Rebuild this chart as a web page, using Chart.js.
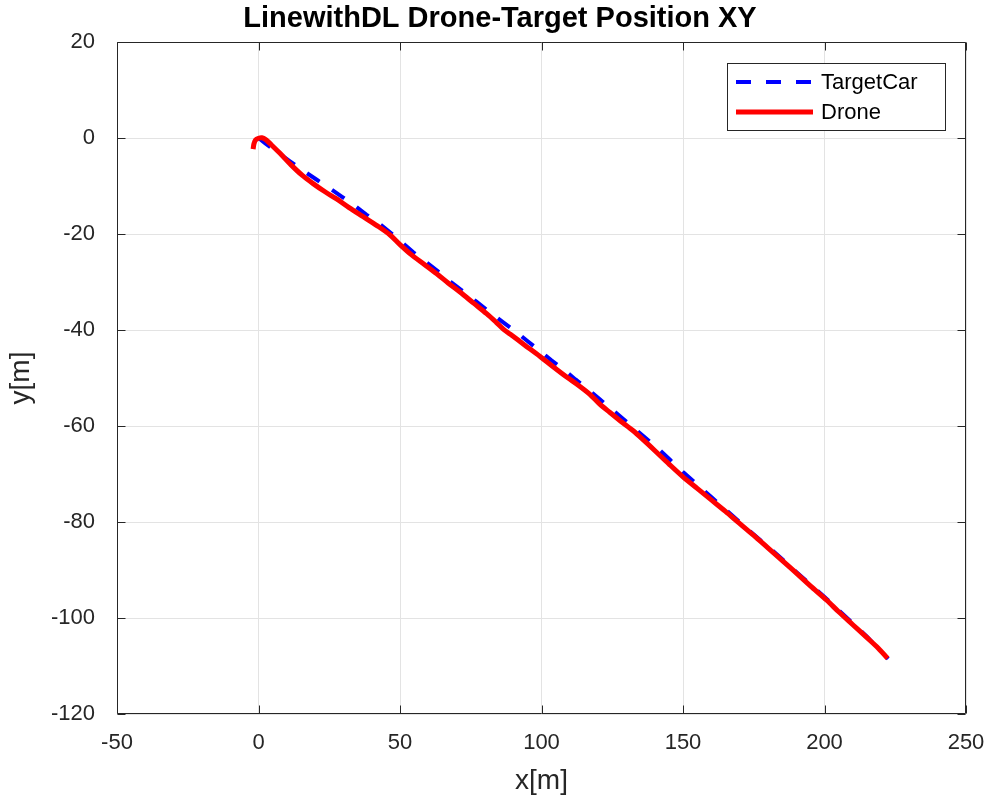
<!DOCTYPE html>
<html>
<head>
<meta charset="utf-8">
<script src="https://cdn.jsdelivr.net/npm/chart.js@4"></script>
<style>
html,body{margin:0;padding:0;background:#fff;}
#wrap{width:992px;height:802px;}
</style>
</head>
<body>
<div id="wrap"><canvas id="c" width="992" height="802"></canvas></div>
<script>
const chartTitle = 'LinewithDL Drone-Target Position XY';
const xLabel = 'x[m]';
const yLabel = 'y[m]';
const seriesNames = ['TargetCar', 'Drone'];
const xTicks = [-50, 0, 50, 100, 150, 200, 250];
const yTicks = [-120, -100, -80, -60, -40, -20, 0, 20];

const targetX = [0, 2.3, 6.5, 11, 15.5, 20.6, 25, 29.4, 34, 38.2, 43, 47, 51, 54.7, 59.5, 64.1, 68, 72.4, 77, 81.3, 86, 90.6, 95, 99.5, 103.5, 107.7, 112, 116.5, 120.5, 124.8, 129, 133, 137, 141, 145.5, 150, 155, 160, 165, 170, 175, 180, 185, 190, 195, 200, 205, 210, 215, 222.5];
const targetY = [0, -1.1, -2.9, -4.8, -6.7, -8.7, -10.4, -12.2, -14.1, -16, -18, -19.9, -21.9, -23.8, -26, -28.1, -30, -32, -34.1, -36.1, -38.2, -40.2, -42.3, -44.4, -46.3, -48.2, -50.3, -52.4, -54.4, -56.5, -58.6, -60.6, -62.6, -64.6, -67.1, -69.6, -72.2, -74.8, -77.4, -80.0, -82.6, -85.1, -87.7, -90.4, -93, -95.6, -98.4, -101.1, -103.9, -108.5];

const droneX = [-1.9, -1.6, -1.0, 0, 1.2, 2.5, 4.5, 7.6, 11.5, 15.5, 19.3, 23.5, 27.6, 32, 37, 42, 46.5, 50, 54, 58.5, 63, 67, 71.2, 76, 80.6, 84, 86.5, 89, 94, 99.5, 104, 108.9, 113, 117.1, 120.5, 124.2, 128, 132.4, 136, 140, 145, 150, 155, 160, 165, 169, 175, 180, 185, 189, 195, 200.8, 205, 210, 215, 219, 222.3];
const droneY = [-2.3, -1.2, -0.4, -0.05, 0.05, -0.3, -1.4, -3.2, -5.6, -7.8, -9.5, -11.2, -12.7, -14.5, -16.4, -18.3, -20.2, -22.2, -24.3, -26.3, -28.3, -30.2, -32.1, -34.4, -36.6, -38.4, -39.8, -40.9, -43.1, -45.5, -47.6, -49.8, -51.5, -53.4, -55.4, -57.2, -59, -61, -62.9, -65.1, -67.9, -70.6, -73, -75.4, -77.8, -79.8, -82.8, -85.4, -88, -90.1, -93.3, -96.3, -98.7, -101.4, -104.1, -106.3, -108.4];

const FONT = "'Liberation Sans', Arial, Helvetica, sans-serif";
const toPts = (xs, ys) => xs.map((x, i) => ({x: x, y: ys[i]}));

const boxPlugin = {
  id: 'boxPlugin',
  afterDraw(chart) {
    const ctx = chart.ctx;
    const a = chart.chartArea;
    const xs = chart.scales.x, ys = chart.scales.y;
    ctx.save();
    ctx.strokeStyle = '#262626';
    ctx.lineWidth = 1;
    const L = Math.round(a.left) + 0.5, R = Math.round(a.right) - 0.5;
    const T = Math.round(a.top) + 0.5, B = Math.round(a.bottom) - 0.5;
    ctx.beginPath();
    ctx.rect(L, T, R - L, B - T);
    const tl = 8;
    xTicks.forEach(v => {
      const px = Math.round(xs.getPixelForValue(v)) + 0.5;
      ctx.moveTo(px, B); ctx.lineTo(px, B - tl);
      ctx.moveTo(px, T); ctx.lineTo(px, T + tl);
    });
    yTicks.forEach(v => {
      const py = Math.round(ys.getPixelForValue(v)) + 0.5;
      ctx.moveTo(L, py); ctx.lineTo(L + tl, py);
      ctx.moveTo(R, py); ctx.lineTo(R - tl, py);
    });
    ctx.stroke();

    // title
    ctx.fillStyle = '#000';
    ctx.font = 'bold 29px ' + FONT;
    ctx.textAlign = 'center';
    ctx.textBaseline = 'middle';
    ctx.fillText(chartTitle, 500, 19);

    // legend
    const lx = 727.5, ly = 63.5, lw = 218, lh = 67;
    ctx.fillStyle = '#fff';
    ctx.fillRect(lx, ly, lw, lh);
    ctx.strokeStyle = '#262626';
    ctx.lineWidth = 1;
    ctx.strokeRect(lx, ly, lw, lh);
    const dsets = chart.data.datasets;
    const rows = [{ds: dsets.find(d => d.label === seriesNames[0]), y: 82},
                  {ds: dsets.find(d => d.label === seriesNames[1]), y: 112}];
    rows.forEach(r => {
      ctx.beginPath();
      ctx.strokeStyle = r.ds.borderColor;
      ctx.lineWidth = r.ds.borderWidth;
      ctx.setLineDash(r.ds.borderDash || []);
      ctx.moveTo(736, r.y); ctx.lineTo(813, r.y);
      ctx.stroke();
      ctx.setLineDash([]);
      ctx.fillStyle = '#000';
      ctx.font = '22px ' + FONT;
      ctx.textAlign = 'left';
      ctx.textBaseline = 'middle';
      ctx.fillText(r.ds.label, 821, r.y + 1);
    });
    ctx.restore();
  }
};

new Chart(document.getElementById('c'), {
  type: 'scatter',
  data: {
    datasets: [
      {
        label: seriesNames[0],
        data: toPts(targetX, targetY),
        showLine: true,
        borderColor: '#0000ff',
        borderWidth: 4,
        borderDash: [15, 15],
        pointRadius: 0,
        tension: 0,
        order: 1
      },
      {
        label: seriesNames[1],
        data: toPts(droneX, droneY),
        showLine: true,
        borderColor: '#ff0000',
        borderWidth: 5,
        pointRadius: 0,
        tension: 0.3,
        order: 0
      }
    ]
  },
  options: {
    responsive: false,
    animation: false,
    layout: { padding: { left: 0, right: 26, top: 42, bottom: 0 } },
    plugins: {
      legend: { display: false },
      title: { display: false },
      tooltip: { enabled: false }
    },
    scales: {
      x: {
        type: 'linear',
        min: -50, max: 250,
        afterBuildTicks: s => { s.ticks = xTicks.map(v => ({value: v})); },
        afterFit: s => { s.height = 88; s.paddingLeft = 0; s.paddingRight = 0; },
        grid: { color: '#e3e3e3', lineWidth: 1, drawTicks: false },
        border: { display: false },
        ticks: { color: '#262626', font: { family: FONT, size: 22 }, padding: 16, maxRotation: 0, autoSkip: false },
        title: { display: true, text: xLabel, color: '#262626', font: { family: FONT, size: 28 }, padding: { top: 4, bottom: 4 } }
      },
      y: {
        type: 'linear',
        min: -120, max: 20,
        afterBuildTicks: s => { s.ticks = yTicks.map(v => ({value: v})); },
        afterFit: s => { s.width = 117; s.paddingTop = 0; s.paddingBottom = 0; },
        grid: { color: '#e3e3e3', lineWidth: 1, drawTicks: false },
        border: { display: false },
        ticks: { color: '#262626', font: { family: FONT, size: 22 }, padding: 22, autoSkip: false },
        title: { display: true, text: yLabel, color: '#262626', font: { family: FONT, size: 28 }, padding: { top: 4, bottom: 4 } }
      }
    }
  },
  plugins: [boxPlugin]
});
</script>
</body>
</html>
